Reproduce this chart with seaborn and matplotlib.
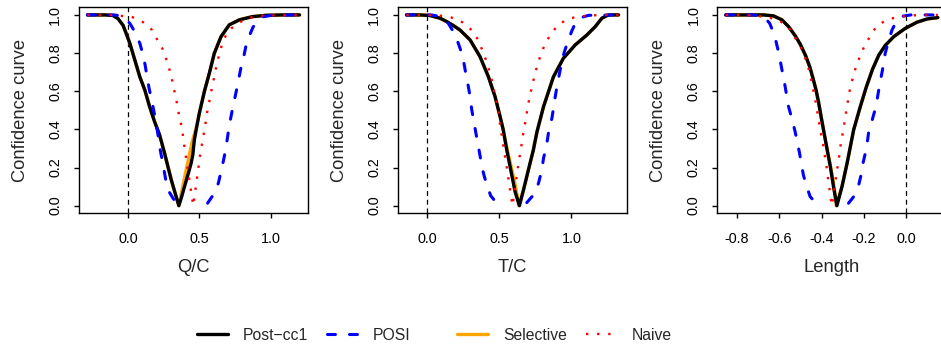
import math
import matplotlib
matplotlib.use("Agg")
import matplotlib.pyplot as plt
from matplotlib.lines import Line2D
import seaborn as sns

# ---------------- data: confidence curves for three parameters ----------------
methods = ["Post\u2212cc1", "POSI", "Selective", "Naive"]
x_labels = ["Q/C", "T/C", "Length"]
y_label = "Confidence curve"
x_ticks = [[0.0, 0.5, 1.0], [0.0, 0.5, 1.0], [-0.8, -0.6, -0.4, -0.2, 0.0]]
y_ticks = [0.0, 0.2, 0.4, 0.6, 0.8, 1.0]
ref_value = 0.0
NA = float("nan")  # POSI curve is not available near its minimum

# Q/C
qc_post_x = [-0.285, -0.16, -0.105, -0.07, -0.035, -0.012, 0.012, 0.047, 0.082, 0.117,
             0.151, 0.186, 0.221, 0.256, 0.303, 0.356, 0.373, 0.396, 0.426, 0.442,
             0.454, 0.465, 0.482, 0.5, 0.535, 0.57, 0.605, 0.652, 0.71, 0.78,
             0.872, 0.97, 1.086, 1.203]
qc_post_y = [1, 1, 0.997, 0.98, 0.945, 0.9, 0.852, 0.764, 0.676, 0.607,
             0.519, 0.44, 0.371, 0.275, 0.135, 0.0, 0.039, 0.10, 0.178, 0.222,
             0.266, 0.345, 0.415, 0.485, 0.598, 0.694, 0.799, 0.886, 0.948, 0.974,
             0.991, 0.998, 1.0, 1.0]
qc_sel_x = [-0.285, -0.16, -0.105, -0.07, -0.035, -0.012, 0.012, 0.047, 0.082, 0.117,
            0.151, 0.186, 0.221, 0.256, 0.303, 0.356, 0.375, 0.40, 0.425, 0.45,
            0.482, 0.5, 0.535, 0.57, 0.605, 0.652, 0.71, 0.78, 0.872, 0.97,
            1.086, 1.203]
qc_sel_y = [1, 1, 0.997, 0.98, 0.945, 0.9, 0.852, 0.764, 0.676, 0.607,
            0.519, 0.44, 0.371, 0.275, 0.135, 0.0, 0.07, 0.16, 0.25, 0.335,
            0.42, 0.485, 0.598, 0.694, 0.799, 0.886, 0.948, 0.974, 0.991, 0.998,
            1.0, 1.0]
qc_posi_x = [-0.285, -0.10, -0.05, -0.02, 0.012, 0.047, 0.082, 0.105, 0.12, 0.133,
             0.147, 0.163, 0.179, 0.193, 0.209, 0.226, 0.244, 0.256, 0.268, 0.29,
             0.31, 0.333, 0.45, 0.558, 0.605, 0.633, 0.652, 0.675,
             0.692, 0.71, 0.729, 0.745, 0.761, 0.775, 0.791, 0.807, 0.826, 0.844,
             0.876, 0.911, 0.946, 1.016, 1.203]
qc_posi_y = [1, 1, 0.995, 0.98, 0.956, 0.912, 0.852, 0.79, 0.735, 0.676,
             0.616, 0.563, 0.502, 0.449, 0.375, 0.29, 0.222, 0.17, 0.12, 0.07,
             0.045, 0.018, NA, 0.013, 0.065, 0.117, 0.178, 0.257,
             0.33, 0.42, 0.493, 0.55, 0.607, 0.659, 0.72, 0.764, 0.834, 0.878,
             0.935, 0.97, 0.99, 0.999, 1.0]
qc_naive_x = [-0.285, -0.12, -0.047, 0.031, 0.105, 0.163, 0.202, 0.24, 0.268, 0.291,
              0.31, 0.326, 0.342, 0.356, 0.373, 0.384, 0.407, 0.43, 0.457, 0.486,
              0.507, 0.535, 0.547, 0.558, 0.575, 0.589, 0.605, 0.621, 0.64, 0.659,
              0.687, 0.725, 0.78, 0.85, 0.95, 1.203]
qc_naive_y = [1, 1, 0.995, 0.988, 0.962, 0.925, 0.874, 0.825, 0.768, 0.712,
              0.655, 0.598, 0.54, 0.481, 0.423, 0.371, 0.249, 0.135, 0.0, 0.157,
              0.275, 0.393, 0.449, 0.505, 0.563, 0.621, 0.676, 0.738, 0.794, 0.846,
              0.895, 0.93, 0.96, 0.985, 0.997, 1.0]

# T/C
tc_post_x = [-0.144, -0.05, 0.019, 0.088, 0.135, 0.18, 0.227, 0.297, 0.366, 0.424,
             0.47, 0.505, 0.527, 0.551, 0.579, 0.609, 0.639, 0.667, 0.701, 0.735,
             0.76, 0.806, 0.875, 0.944, 1.026, 1.107, 1.165, 1.211, 1.25, 1.269, 1.326]
tc_post_y = [1, 1, 0.997, 0.983, 0.965, 0.945, 0.921, 0.869, 0.781, 0.676,
             0.572, 0.467, 0.397, 0.292, 0.187, 0.073, 0.0, 0.082, 0.187, 0.29,
             0.385, 0.519, 0.676, 0.773, 0.843, 0.895, 0.939, 0.983, 0.998, 1.0, 1.0]
tc_sel_x = [-0.144, -0.05, 0.019, 0.088, 0.135, 0.18, 0.227, 0.297, 0.366, 0.424,
            0.47, 0.505, 0.527, 0.553, 0.586, 0.612, 0.628, 0.635, 0.667, 0.701,
            0.735, 0.76, 0.806, 0.875, 0.944, 1.026, 1.107, 1.165, 1.211, 1.25,
            1.269, 1.326]
tc_sel_y = [1, 1, 0.997, 0.983, 0.965, 0.945, 0.921, 0.869, 0.781, 0.676,
            0.572, 0.467, 0.397, 0.30, 0.19, 0.10, 0.03, 0.0, 0.082, 0.187,
            0.29, 0.385, 0.519, 0.676, 0.773, 0.843, 0.895, 0.939, 0.983, 0.998,
            1.0, 1.0]
tc_posi_x = [-0.144, 0.03, 0.10, 0.146, 0.181, 0.215, 0.239, 0.255, 0.269, 0.285,
             0.297, 0.308, 0.319, 0.335, 0.352, 0.366, 0.38, 0.395, 0.413, 0.44,
             0.482, 0.59, 0.69, 0.736, 0.771, 0.794, 0.806, 0.824,
             0.84, 0.864, 0.875, 0.887, 0.899, 0.917, 0.935, 0.95, 0.963, 1.0,
             1.026, 1.06, 1.12, 1.326]
tc_posi_y = [1, 1, 0.99, 0.956, 0.912, 0.852, 0.799, 0.745, 0.685, 0.624,
             0.572, 0.505, 0.458, 0.39, 0.32, 0.262, 0.2, 0.155, 0.109, 0.052,
             0.013, NA, 0.016, 0.056, 0.117, 0.187, 0.249, 0.301,
             0.38, 0.458, 0.51, 0.57, 0.624, 0.694, 0.76, 0.805, 0.834, 0.912,
             0.956, 0.985, 0.998, 1.0]
tc_naive_x = [-0.144, 0.03, 0.1, 0.169, 0.243, 0.301, 0.347, 0.378, 0.405, 0.428,
              0.449, 0.465, 0.482, 0.498, 0.505, 0.517, 0.528, 0.541, 0.553, 0.564,
              0.576, 0.591, 0.609, 0.621, 0.632, 0.644, 0.656, 0.667, 0.683, 0.694,
              0.708, 0.725, 0.743, 0.764, 0.788, 0.817, 0.857, 0.903, 0.968, 1.042,
              1.118, 1.2, 1.326]
tc_naive_y = [1, 1, 0.995, 0.986, 0.962, 0.925, 0.876, 0.822, 0.768, 0.712,
              0.654, 0.596, 0.54, 0.481, 0.423, 0.366, 0.31, 0.249, 0.191, 0.135,
              0.073, 0.0, 0.10, 0.157, 0.217, 0.275, 0.33, 0.388, 0.449, 0.507,
              0.563, 0.621, 0.68, 0.738, 0.794, 0.848, 0.9, 0.944, 0.977, 0.991,
              0.996, 1.0, 1.0]

# Length
len_post_x = [-0.852, -0.674, -0.627, -0.587, -0.556, -0.524, -0.5, -0.475, -0.455, -0.44,
              -0.426, -0.414, -0.403, -0.391, -0.375, -0.359, -0.344, -0.328, -0.304, -0.28,
              -0.249, -0.22, -0.19, -0.16, -0.13, -0.1, -0.06, -0.005, 0.05, 0.098, 0.148]
len_post_y = [1, 1, 0.995, 0.974, 0.939, 0.89, 0.845, 0.785, 0.725, 0.665,
              0.605, 0.54, 0.47, 0.397, 0.3, 0.205, 0.10, 0.0, 0.10, 0.222,
              0.397, 0.51, 0.62, 0.715, 0.79, 0.84, 0.886, 0.93, 0.962, 0.979, 0.986]
len_sel_x = [-0.852, -0.674, -0.627, -0.587, -0.556, -0.524, -0.5, -0.475, -0.455, -0.44,
             -0.426, -0.414, -0.403, -0.391, -0.375, -0.36, -0.347, -0.337, -0.331, -0.304,
             -0.28, -0.249, -0.22, -0.19, -0.16, -0.13, -0.1, -0.06, -0.005, 0.05,
             0.098, 0.148]
len_sel_y = [1, 1, 0.995, 0.974, 0.939, 0.89, 0.845, 0.785, 0.725, 0.665,
             0.605, 0.54, 0.47, 0.397, 0.3, 0.22, 0.14, 0.06, 0.0, 0.10,
             0.222, 0.397, 0.51, 0.62, 0.715, 0.79, 0.84, 0.886, 0.93, 0.962,
             0.979, 0.986]
len_posi_x = [-0.852, -0.72, -0.685, -0.662, -0.645, -0.632, -0.615, -0.603, -0.587, -0.572,
              -0.556, -0.54, -0.525, -0.517, -0.504, -0.496, -0.486, -0.473, -0.454, -0.426,
              -0.35, -0.273, -0.249, -0.225, -0.214, -0.205, -0.194, -0.183,
              -0.178, -0.16, -0.144, -0.128, -0.113, -0.1, -0.085, -0.068, -0.052, -0.035,
              -0.015, 0.02, 0.148]
len_posi_y = [1, 1, 0.994, 0.978, 0.956, 0.921, 0.86, 0.805, 0.712, 0.624,
              0.519, 0.455, 0.388, 0.345, 0.275, 0.222, 0.161, 0.109, 0.047, 0.013,
              NA, 0.013, 0.047, 0.109, 0.161, 0.222, 0.275, 0.345,
              0.388, 0.455, 0.519, 0.624, 0.712, 0.8, 0.86, 0.921, 0.956, 0.98,
              0.994, 1, 1]
len_naive_x = [-0.852, -0.766, -0.711, -0.655, -0.605, -0.558, -0.525, -0.5, -0.483, -0.465,
               -0.45, -0.438, -0.427, -0.419, -0.411, -0.401, -0.391, -0.383, -0.375, -0.369,
               -0.361, -0.355, -0.35, -0.347, -0.339, -0.331, -0.323, -0.315, -0.309, -0.299,
               -0.283, -0.265, -0.24, -0.217, -0.194, -0.142, -0.095, -0.045, 0.011, 0.066, 0.148]
len_naive_y = [1, 1, 0.996, 0.988, 0.974, 0.939, 0.88, 0.835, 0.79, 0.735,
               0.665, 0.598, 0.54, 0.484, 0.428, 0.366, 0.31, 0.249, 0.191, 0.135,
               0.073, 0.021, 0.0, 0.042, 0.1, 0.157, 0.217, 0.275, 0.33, 0.388,
               0.502, 0.621, 0.72, 0.79, 0.846, 0.939, 0.974, 0.988, 0.996, 1, 1]

panels = [
    {"Post\u2212cc1": (qc_post_x, qc_post_y), "POSI": (qc_posi_x, qc_posi_y),
     "Selective": (qc_sel_x, qc_sel_y), "Naive": (qc_naive_x, qc_naive_y)},
    {"Post\u2212cc1": (tc_post_x, tc_post_y), "POSI": (tc_posi_x, tc_posi_y),
     "Selective": (tc_sel_x, tc_sel_y), "Naive": (tc_naive_x, tc_naive_y)},
    {"Post\u2212cc1": (len_post_x, len_post_y), "POSI": (len_posi_x, len_posi_y),
     "Selective": (len_sel_x, len_sel_y), "Naive": (len_naive_x, len_naive_y)},
]


def finite_runs(xs, ys):
    """Split a curve into pieces at missing (NaN) values."""
    runs, cx, cy = [], [], []
    for x, y in zip(xs, ys):
        if math.isnan(y):
            if cx:
                runs.append((cx, cy))
            cx, cy = [], []
        else:
            cx.append(x)
            cy.append(y)
    if cx:
        runs.append((cx, cy))
    return runs


# ---------------- styling ----------------
sns.set_style("ticks")
plt.rcParams["font.family"] = ["Liberation Sans", "DejaVu Sans"]
plt.rcParams["axes.unicode_minus"] = True

line_styles = {
    "Selective": dict(color="#FFA500", linewidth=2.4, linestyle="-",
                      solid_capstyle="round", zorder=2),
    "Post\u2212cc1": dict(color="black", linewidth=2.4, linestyle="-",
                          solid_capstyle="round", zorder=3),
    "POSI": dict(color="#0000FF", linewidth=2.2, linestyle=(0, (2.6, 4.6)),
                 dash_capstyle="round", zorder=4),
    "Naive": dict(color="#FF0000", linewidth=1.7, linestyle=(0, (1.0, 3.7)),
                  dash_capstyle="butt", zorder=5),
}
draw_order = ["Selective", "Post\u2212cc1", "POSI", "Naive"]

W, H = 941, 349
fig = plt.figure(figsize=(W / 100, H / 100), dpi=100)


def rect(left, top, width, height):
    return [left / W, 1 - (top + height) / H, width / W, height / H]


panel_lefts = [79, 398, 717.3]
panel_top, panel_w, panel_h = 7.3, 229, 206

for i, curves in enumerate(panels):
    ax = fig.add_axes(rect(panel_lefts[i], panel_top, panel_w, panel_h))
    for m in draw_order:
        xs, ys = curves[m]
        for px, py in finite_runs(xs, ys):
            sns.lineplot(x=px, y=py, ax=ax, estimator=None, sort=False,
                         legend=False, **line_styles[m])
    ax.axvline(ref_value, color="black", linewidth=0.9,
               linestyle=(0, (4, 3)), zorder=1)

    all_x = [v for m in curves for v in curves[m][0]]
    lo, hi = min(all_x), max(all_x)
    pad = 0.04 * (hi - lo)
    ax.set_xlim(lo - pad, hi + pad)
    ax.set_ylim(-0.04, 1.04)

    ax.set_xticks(x_ticks[i])
    ax.set_xticklabels([f"{t:.1f}" for t in x_ticks[i]])
    ax.set_yticks(y_ticks)
    ax.set_yticklabels([f"{t:.1f}" for t in y_ticks], rotation=90, va="center")

    for s in ax.spines.values():
        s.set_color("black")
        s.set_linewidth(1.0)
        s.set_visible(True)
    ax.tick_params(axis="both", direction="out", length=3.6, width=1.0,
                   colors="black", labelsize=10.4)
    ax.tick_params(axis="x", pad=10)
    ax.tick_params(axis="y", pad=8.4)

    ax.set_xlabel(x_labels[i], fontsize=13.2)
    ax.xaxis.set_label_coords(0.5, -0.223)
    ax.set_ylabel(y_label, fontsize=13.2)
    ax.yaxis.set_label_coords(-0.218, 0.5)

# legend row below the panels
legend_x = [197, 327, 457, 586]
for m, lx in zip(methods, legend_x):
    st = line_styles[m]
    handle = Line2D([], [], color=st["color"], linewidth=st["linewidth"],
                    linestyle=st["linestyle"],
                    dash_capstyle=st.get("dash_capstyle", "butt"),
                    solid_capstyle=st.get("solid_capstyle", "butt"))
    fig.legend(handles=[handle], labels=[m], loc="center left",
               bbox_to_anchor=(lx / W, 1 - 335 / H), frameon=False,
               fontsize=11.3, handlelength=1.97, handletextpad=0.95,
               borderpad=0, borderaxespad=0)

fig.savefig("out.png", dpi=100)
